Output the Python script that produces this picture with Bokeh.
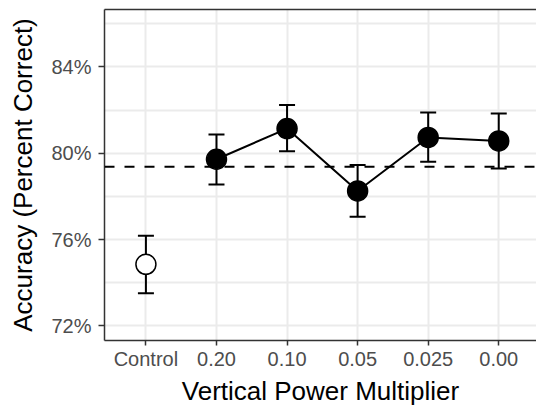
from bokeh.plotting import figure
from bokeh.models import (FixedTicker, PrintfTickFormatter, Span, Whisker, TeeHead,
                          ColumnDataSource, Range1d, LinearAxis)
from bokeh.embed import file_html
from bokeh.resources import INLINE

# ---- data ----
categories = ["Control", "0.20", "0.10", "0.05", "0.025", "0.00"]
accuracy = [74.85, 79.72, 81.14, 78.25, 80.73, 80.57]
err_low = [73.51, 78.55, 80.09, 77.05, 79.60, 79.29]
err_high = [76.17, 80.87, 82.23, 79.45, 81.89, 81.84]
baseline = 79.37
y_ticks = [72, 76, 80, 84]
y_minor = [74, 78, 82, 86]

xpos = list(range(1, len(categories) + 1))

p = figure(width=536, height=408, output_backend="svg", toolbar_location=None,
           x_range=Range1d(0.413, 6.535), y_range=Range1d(71.32, 86.66),
           min_border_left=104, min_border_top=9, min_border_right=0, min_border_bottom=66)

p.background_fill_color = "white"
p.border_fill_color = "white"
p.outline_line_color = None

FONT = "Liberation Sans"
BORDER = "#333333"

# axes
p.xaxis.ticker = FixedTicker(ticks=xpos)
p.xaxis.major_label_overrides = {x: c for x, c in zip(xpos, categories)}
p.yaxis.ticker = FixedTicker(ticks=y_ticks, minor_ticks=y_minor)
p.yaxis.formatter = PrintfTickFormatter(format="%d%%")
for ax in (p.xaxis, p.yaxis):
    ax.axis_line_color = BORDER
    ax.axis_line_width = 1.5
    ax.major_tick_line_color = BORDER
    ax.major_tick_line_width = 1.5
    ax.major_tick_in = 0
    ax.major_tick_out = 6
    ax.minor_tick_line_color = None
    ax.major_label_text_font = FONT
    ax.major_label_text_font_size = "20px"
    ax.major_label_text_color = "#4D4D4D"
    ax.axis_label_text_font = FONT
    ax.axis_label_text_font_size = "26px"
    ax.axis_label_text_font_style = "normal"
    ax.axis_label_text_color = "black"
p.xaxis.major_tick_out = 5
p.xaxis.major_label_standoff = 2
p.xaxis.axis_label_standoff = 3
p.yaxis.major_label_standoff = 7
p.yaxis.axis_label_standoff = 10
p.xaxis.axis_label = "Vertical Power Multiplier"
p.yaxis.axis_label = "Accuracy (Percent Correct)"

# top border of the panel
top = LinearAxis(ticker=FixedTicker(ticks=[]), axis_line_color=BORDER, axis_line_width=1.5,
                 major_tick_line_color=None, minor_tick_line_color=None,
                 major_label_text_font_size="0px", major_label_standoff=0)
p.add_layout(top, "above")

# grid
p.xgrid.grid_line_color = "#EBEBEB"
p.xgrid.grid_line_width = 2
p.ygrid.grid_line_color = "#EBEBEB"
p.ygrid.grid_line_width = 2
p.ygrid.minor_grid_line_color = "#EBEBEB"
p.ygrid.minor_grid_line_width = 2

# baseline
p.add_layout(Span(location=baseline, dimension="width", line_color="black",
                  line_width=2, line_dash="10 10"))

src = ColumnDataSource(dict(x=xpos, y=accuracy, lo=err_low, hi=err_high))
p.add_layout(Whisker(source=src, base="x", upper="hi", lower="lo", dimension="height",
                     line_color="black", line_width=2,
                     upper_head=TeeHead(size=16, line_color="black", line_width=2),
                     lower_head=TeeHead(size=16, line_color="black", line_width=2)))

p.line(xpos[1:], accuracy[1:], line_color="black", line_width=2)
p.scatter(xpos[1:], accuracy[1:], size=20, fill_color="black", line_color="black", line_width=1.5)
p.scatter(xpos[:1], accuracy[:1], size=20, fill_color="white", line_color="black", line_width=1.5)

open("out.html", "w").write(file_html(p, INLINE))
